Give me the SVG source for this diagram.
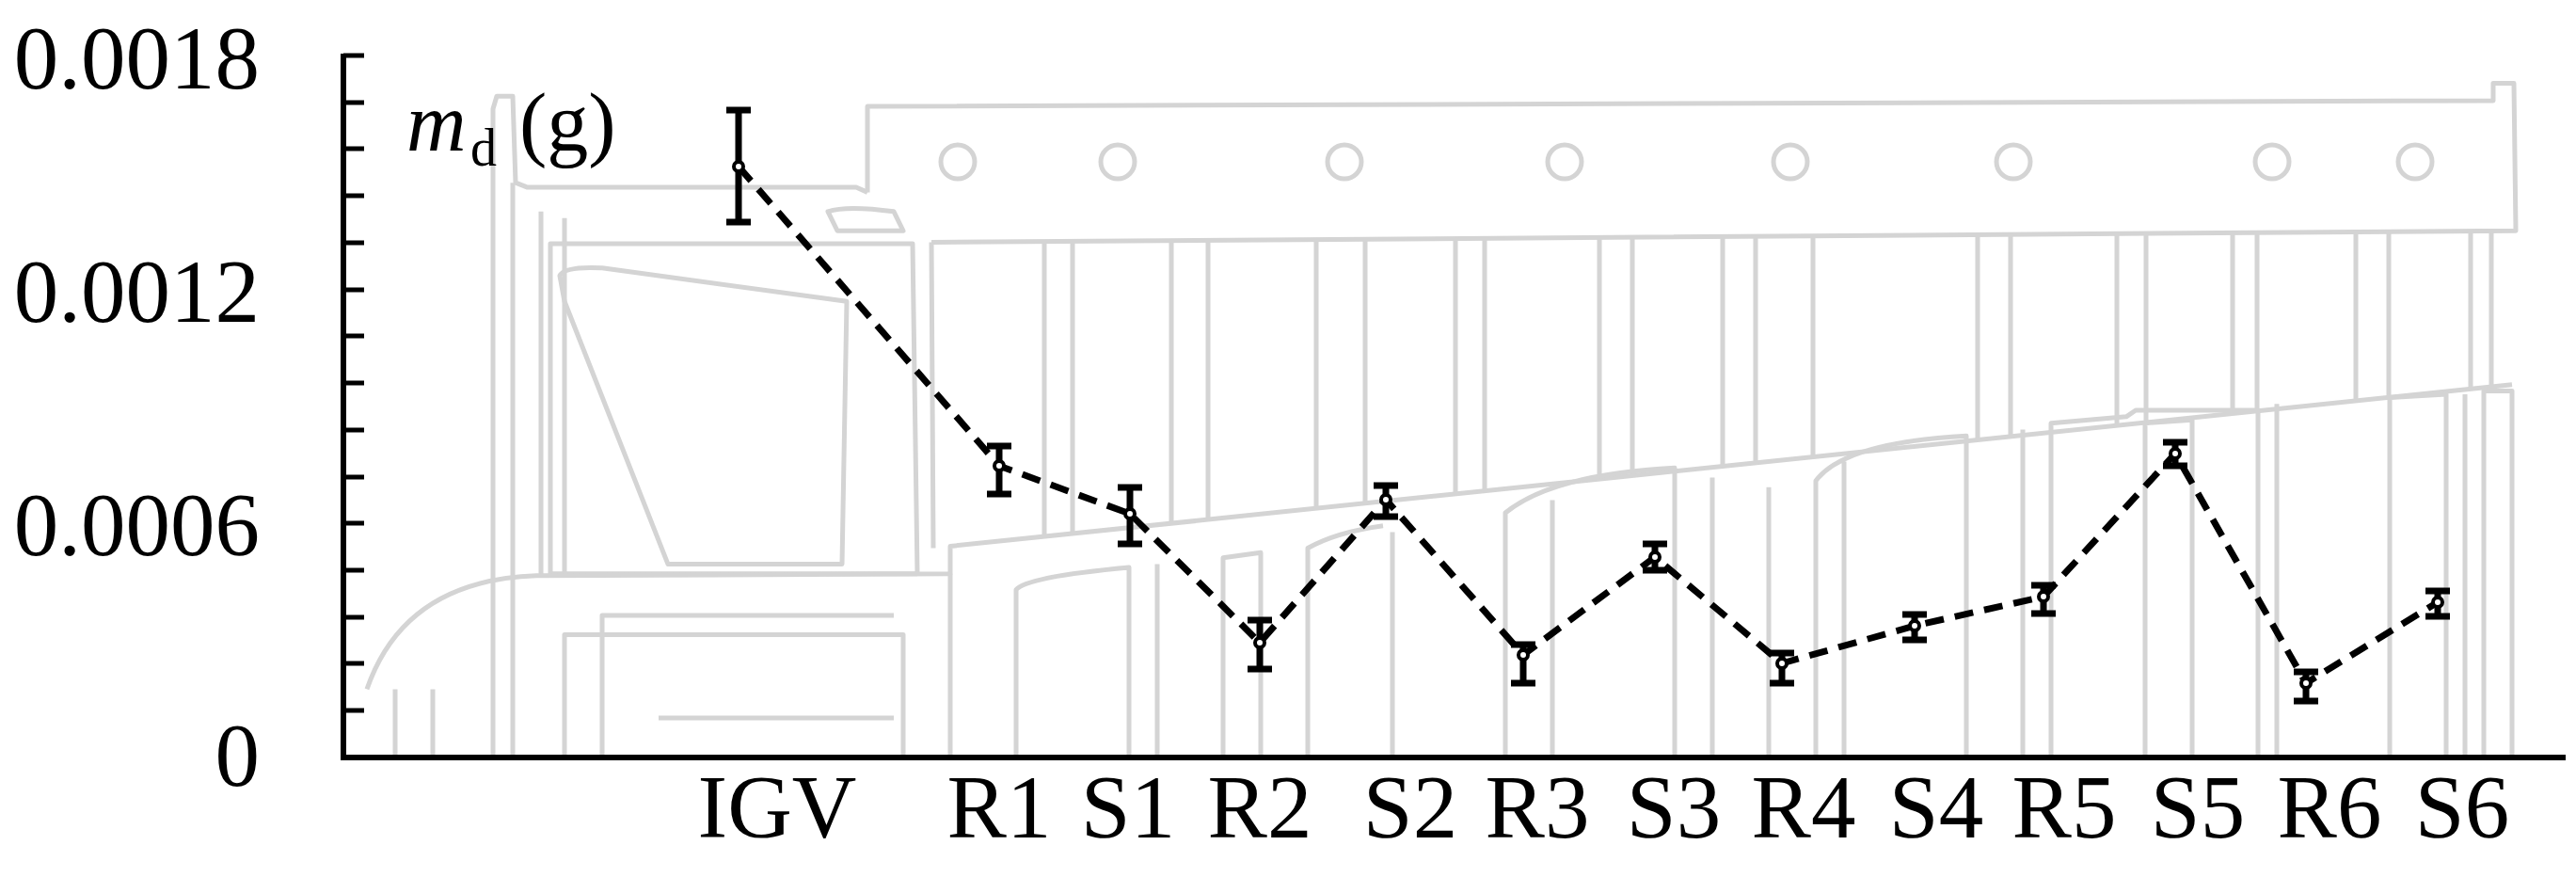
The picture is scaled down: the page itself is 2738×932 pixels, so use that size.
<svg xmlns="http://www.w3.org/2000/svg" width="2738" height="932" viewBox="0 0 2738 932">
<style>
.bg{fill:none;stroke:#d4d4d4;stroke-width:5;stroke-linejoin:round;vector-effect:non-scaling-stroke}
.ax{stroke:#000;stroke-width:6;fill:none}
.tk{stroke:#000;stroke-width:5}
.eb{stroke:#000;stroke-width:7;fill:none}
.pt{fill:#fff;stroke:#000;stroke-width:4}
.t{font-family:"Liberation Serif","Times New Roman",serif;font-size:95px;fill:#000}
</style>
<g id="background">
<g transform="matrix(1 0 0 0.6813 0 0)">
<path class="bg" d="M922,300 L922,166 L2650,157 L2650,130 L2672,130 L2674,360 L990,378"/>
<path class="bg" d="M922,300 L910,292 L560,292 L548,285 L545,150 L528,150 L524,170 L524,1181"/>
<path class="bg" d="M545,285 L545,1181"/>
<path class="bg" d="M575,330 L575,900 M600,340 L600,900"/>
<path class="bg" d="M585,380 L970,380 L975,895 L585,895 Z"/>
<path class="bg" d="M595,430 Q600,415 640,418 L900,470 L895,880 L710,880 L600,470 Z"/>
<path class="bg" d="M880,330 Q900,320 950,330 L960,360 L890,360 Z"/>
<path class="bg" d="M390,1075 Q430,905 570,898 L1010,895 L1010,852 L2670,600"/>
<path class="bg" d="M990,378 L992,855 M1140,378 L1140,832 M1110,378 L1110,837"/>
<path class="bg" d="M1245,376 L1245,816 M1284,376 L1284,810 M1399,374 L1399,793 M1451,374 L1451,785 M1547,372 L1547,770 M1578,372 L1578,766 M1700,370 L1700,747 M1735,370 L1735,742 M1831,369 L1831,727 M1866,369 L1866,722 M1927,368 L1927,713 M2102,366 L2102,686 M2137,366 L2137,681 M2250,365 L2250,664 M2281,365 L2281,659 M2373,364 L2373,645 M2399,364 L2399,641 M2504,362 L2504,625 M2539,362 L2539,620 M2626,360 L2626,607 M2648,360 L2648,603"/>
<path class="bg" d="M420,1181 L420,1075 M460,1181 L460,1075 M600,1181 L600,990 L960,990 L960,1181 M640,1181 L640,960 L950,960 M700,1120 L950,1120 M1010,895 L1010,1181"/>
<path class="bg" d="M1080,1181 L1080,920 Q1090,900 1200,885 L1200,1181 M1230,880 L1230,1181 M1300,1181 L1300,870 L1340,862 L1340,1181"/>
<path class="bg" d="M1390,1181 L1390,855 Q1420,830 1470,820 M1480,1181 L1480,830 M1600,1181 L1600,800 Q1650,740 1780,730 L1780,1181 M1650,1181 L1650,780 M1820,1181 L1820,745"/>
<path class="bg" d="M1880,1181 L1880,760 M1930,1181 L1930,750 Q1960,690 2090,680 L2090,1181 M1960,1181 L1960,720"/>
<path class="bg" d="M2150,1181 L2150,670 M2180,1181 L2180,660 L2260,650 L2270,640 L2400,640 L2400,1181 M2280,1181 L2280,660 L2330,655 L2330,1181"/>
<path class="bg" d="M2420,1181 L2420,630 M2540,1181 L2540,620 L2600,615 L2600,1181 M2640,1181 L2640,610 L2670,610 L2670,1181 M2620,1181 L2620,615"/>
</g>
<circle class="bg" cx="1018" cy="172" r="18"/><circle class="bg" cx="1188" cy="172" r="18"/>
<circle class="bg" cx="1429" cy="172" r="18"/><circle class="bg" cx="1663" cy="172" r="18"/>
<circle class="bg" cx="1903" cy="172" r="18"/><circle class="bg" cx="2140" cy="172" r="18"/>
<circle class="bg" cx="2415" cy="172" r="18"/><circle class="bg" cx="2567" cy="172" r="18"/>
</g>
<g id="axes">
<path class="ax" d="M365,57 L365,805 L2727,805"/>
<path class="tk" d="M365,59 h22 M365,109 h22 M365,158 h22 M365,208 h22 M365,258 h22 M365,308 h22 M365,357 h22 M365,407 h22 M365,457 h22 M365,507 h22 M365,556 h22 M365,606 h22 M365,656 h22 M365,705 h22 M365,755 h22"/>
<text class="t" x="276" y="94" text-anchor="end">0.0018</text>
<text class="t" x="276" y="342" text-anchor="end">0.0012</text>
<text class="t" x="276" y="590" text-anchor="end">0.0006</text>
<text class="t" x="276" y="835" text-anchor="end">0</text>
<text class="t" x="432" y="160" style="font-style:italic;font-size:88px">m</text>
<text class="t" x="500" y="176" style="font-size:56px">d</text>
<text class="t" x="552" y="160" style="font-size:88px">(g)</text>
</g>
<g id="xlabels" class="t" text-anchor="middle">
<text x="826" y="890">IGV</text>
<text x="1062" y="890">R1</text>
<text x="1199" y="890">S1</text>
<text x="1339" y="890">R2</text>
<text x="1499" y="890">S2</text>
<text x="1634" y="890">R3</text>
<text x="1779" y="890">S3</text>
<text x="1917" y="890">R4</text>
<text x="2058" y="890">S4</text>
<text x="2194" y="890">R5</text>
<text x="2336" y="890">S5</text>
<text x="2476" y="890">R6</text>
<text x="2617" y="890">S6</text>
</g>
<g id="connectors">
<polyline fill="none" stroke="#000" stroke-width="7" stroke-dasharray="20,12" points="785,177 1062,495 1201,546 1339,683 1473,531 1619,696 1759,592 1894,705 2035,665 2172,634 2312,482 2451,726 2591,640"/>
</g>
<g id="errorbars">
<path class="eb" d="M785,117 V236 M772,117 h26 M772,236 h26"/>
<path class="eb" d="M1062,474 V525 M1049,474 h26 M1049,525 h26"/>
<path class="eb" d="M1201,518 V578 M1188,518 h26 M1188,578 h26"/>
<path class="eb" d="M1339,659 V711 M1326,659 h26 M1326,711 h26"/>
<path class="eb" d="M1473,516 V549 M1460,516 h26 M1460,549 h26"/>
<path class="eb" d="M1619,685 V726 M1606,685 h26 M1606,726 h26"/>
<path class="eb" d="M1759,578 V606 M1746,578 h26 M1746,606 h26"/>
<path class="eb" d="M1894,694 V726 M1881,694 h26 M1881,726 h26"/>
<path class="eb" d="M2035,653 V680 M2022,653 h26 M2022,680 h26"/>
<path class="eb" d="M2172,622 V652 M2159,622 h26 M2159,652 h26"/>
<path class="eb" d="M2312,470 V495 M2299,470 h26 M2299,495 h26"/>
<path class="eb" d="M2451,714 V745 M2438,714 h26 M2438,745 h26"/>
<path class="eb" d="M2591,628 V655 M2578,628 h26 M2578,655 h26"/>
</g>
<g id="points">
<circle class="pt" cx="785" cy="177" r="5"/><circle class="pt" cx="1062" cy="495" r="5"/>
<circle class="pt" cx="1201" cy="546" r="5"/><circle class="pt" cx="1339" cy="683" r="5"/>
<circle class="pt" cx="1473" cy="531" r="5"/><circle class="pt" cx="1619" cy="696" r="5"/>
<circle class="pt" cx="1759" cy="592" r="5"/><circle class="pt" cx="1894" cy="705" r="5"/>
<circle class="pt" cx="2035" cy="665" r="5"/><circle class="pt" cx="2172" cy="634" r="5"/>
<circle class="pt" cx="2312" cy="482" r="5"/><circle class="pt" cx="2451" cy="726" r="5"/>
<circle class="pt" cx="2591" cy="640" r="5"/>
</g>
</svg>
